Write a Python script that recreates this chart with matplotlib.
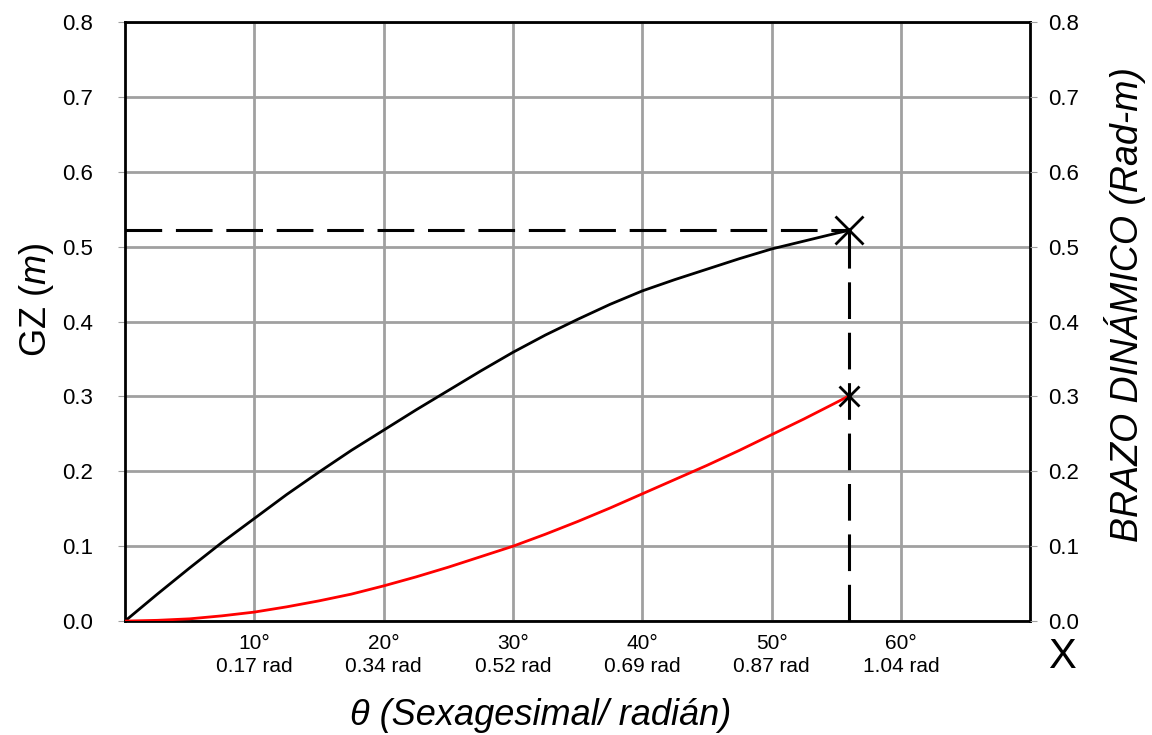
import matplotlib
matplotlib.use("Agg")
import matplotlib.pyplot as plt

# heel angle (degrees) and the two curves
theta_deg = [0, 2.5, 5, 7.5, 10, 12.5, 15, 17.5, 20, 22.5, 25, 27.5, 30,
             32.5, 35, 37.5, 40, 42.5, 45, 47.5, 50, 52.5, 55, 56]
gz = [0.0, 0.036, 0.071, 0.105, 0.137, 0.169, 0.199, 0.228, 0.255, 0.282,
      0.308, 0.334, 0.359, 0.382, 0.403, 0.423, 0.441, 0.456, 0.470, 0.484,
      0.497, 0.5075, 0.518, 0.522]
brazo_dinamico = [0.0, 0.001, 0.003, 0.007, 0.012, 0.019, 0.027, 0.036,
                  0.047, 0.059, 0.072, 0.086, 0.100, 0.116, 0.133, 0.151,
                  0.170, 0.189, 0.208, 0.228, 0.249, 0.270, 0.292, 0.301]

x_ticks = [10, 20, 30, 40, 50, 60]
x_tick_labels = ["10°\n0.17 rad", "20°\n0.34 rad", "30°\n0.52 rad",
                 "40°\n0.69 rad", "50°\n0.87 rad", "60°\n1.04 rad"]
y_ticks = [0.0, 0.1, 0.2, 0.3, 0.4, 0.5, 0.6, 0.7, 0.8]

theta_max = theta_deg[-1]
gz_max = gz[-1]
dyn_max = brazo_dinamico[-1]

plt.rcParams["font.family"] = ["Liberation Sans", "DejaVu Sans"]
plt.rcParams["mathtext.fontset"] = "custom"
plt.rcParams["mathtext.rm"] = "Liberation Sans"
plt.rcParams["mathtext.it"] = "Liberation Sans:italic"

fig = plt.figure(figsize=(11.52, 7.35), dpi=100)
ax = fig.add_axes([0.1085, 0.155, 0.786, 0.815])

ax.set_xlim(0, 70)
ax.set_ylim(0, 0.8)

ax.grid(True, color="#a0a0a0", linewidth=2)
ax.set_axisbelow(True)

ax.plot(theta_deg, gz, color="black", linewidth=2, zorder=3)
ax.plot(theta_deg, brazo_dinamico, color="#ff0000", linewidth=2, zorder=3)

# dashed guides to the end point
ax.plot([0, theta_max], [gz_max, gz_max], color="black", linewidth=2.2,
        dashes=(12, 4.5), zorder=3)
ax.plot([theta_max, theta_max], [0, gz_max], color="black", linewidth=2.2,
        dashes=(12, 4.5), zorder=3)
ax.plot([theta_max], [gz_max], marker="x", markersize=20, markeredgewidth=2,
        color="black", zorder=4)
ax.plot([theta_max], [dyn_max], marker="x", markersize=14, markeredgewidth=2,
        color="black", zorder=4)

ax.set_xticks(x_ticks)
ax.set_xticklabels(x_tick_labels, fontsize=15, linespacing=1.3)
ax.tick_params(axis="x", length=0, pad=9)

ax.set_yticks(y_ticks)
ax.set_yticklabels([f"{v:.1f}" for v in y_ticks], fontsize=16)
ax.tick_params(axis="y", length=5, color="#a0a0a0", pad=18)

for s in ax.spines.values():
    s.set_linewidth(2)
    s.set_color("black")

ax2 = ax.twinx()
ax2.set_ylim(0, 0.8)
ax2.set_yticks(y_ticks)
ax2.set_yticklabels([f"{v:.1f}" for v in y_ticks], fontsize=16)
ax2.tick_params(axis="y", length=5, color="#a0a0a0", pad=8)
for s in ax2.spines.values():
    s.set_visible(False)

fig.text(0.032, 0.592, r"GZ $\mathit{(m)}$", rotation=90, fontsize=26,
         ha="center", va="center")
fig.text(0.9766, 0.586, "BRAZO DINÁMICO (Rad-m)", rotation=90, fontsize=27,
         style="italic", ha="center", va="center")
fig.text(0.469, 0.027, "θ (Sexagesimal/ radián)", fontsize=26,
         style="italic", ha="center", va="center")
fig.text(0.922, 0.106, "X", fontsize=30, ha="center", va="center")

fig.savefig("out.png", dpi=100)
